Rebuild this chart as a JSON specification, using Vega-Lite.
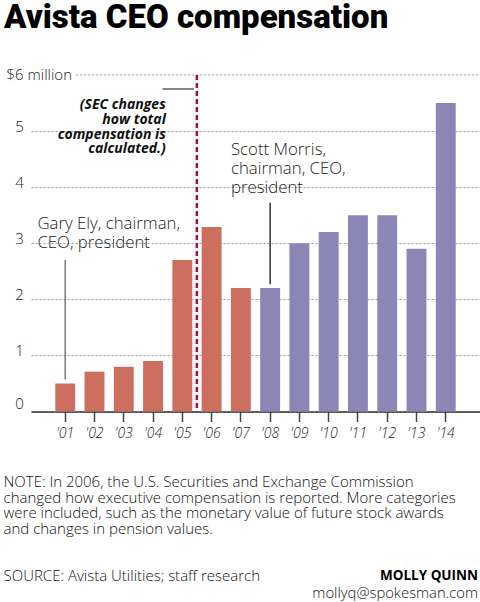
{
  "$schema": "https://vega.github.io/schema/vega-lite/v6.json",
  "autosize": {"type": "none"},
  "width": 449,
  "height": 336.5,
  "padding": {"left": 31, "top": 75, "right": 0, "bottom": 190},
  "background": "white",
  "title": {
    "text": "Avista CEO compensation",
    "anchor": "start",
    "frame": "group",
    "font": "Roboto",
    "fontWeight": 900,
    "fontSize": 33,
    "color": "#000000",
    "baseline": "alphabetic",
    "dx": -27,
    "offset": 6
  },
  "config": {
    "view": {"stroke": null},
    "font": "Open Sans"
  },
  "data": {
    "values": [
      {"year": "2001", "value": 0.50, "ceo": "Gary Ely"},
      {"year": "2002", "value": 0.71, "ceo": "Gary Ely"},
      {"year": "2003", "value": 0.80, "ceo": "Gary Ely"},
      {"year": "2004", "value": 0.90, "ceo": "Gary Ely"},
      {"year": "2005", "value": 2.70, "ceo": "Gary Ely"},
      {"year": "2006", "value": 3.29, "ceo": "Gary Ely"},
      {"year": "2007", "value": 2.20, "ceo": "Gary Ely"},
      {"year": "2008", "value": 2.20, "ceo": "Scott Morris"},
      {"year": "2009", "value": 3.00, "ceo": "Scott Morris"},
      {"year": "2010", "value": 3.20, "ceo": "Scott Morris"},
      {"year": "2011", "value": 3.50, "ceo": "Scott Morris"},
      {"year": "2012", "value": 3.50, "ceo": "Scott Morris"},
      {"year": "2013", "value": 2.90, "ceo": "Scott Morris"},
      {"year": "2014", "value": 5.50, "ceo": "Scott Morris"}
    ]
  },
  "encoding": {
    "x": {
      "field": "year",
      "type": "nominal",
      "sort": null,
      "scale": {"paddingInner": 0.32, "paddingOuter": 0.83},
      "axis": {
        "labelExpr": "\"'\" + substring(datum.label, 2)",
        "labelAngle": 0,
        "labelFont": "Open Sans",
        "labelFontWeight": 300,
        "labelFontStyle": "italic",
        "labelFontSize": 14,
        "labelColor": "#222222",
        "labelPadding": 5,
        "labelBaseline": "top",
        "tickSize": 10,
        "tickColor": "#444444",
        "tickWidth": 1.5,
        "domainColor": "#333333",
        "domainWidth": 1.5,
        "grid": false,
        "title": [
          "NOTE: In 2006, the U.S. Securities and Exchange Commission",
          "changed how executive compensation is reported. More categories",
          "were included, such as the monetary value of future stock awards",
          "and changes in pension values."
        ],
        "titleFont": "Open Sans",
        "titleFontWeight": 300,
        "titleFontSize": 15,
        "titleColor": "#111111",
        "titleAlign": "left",
        "titleAnchor": "start",
        "titleBaseline": "alphabetic",
        "titleLineHeight": 15.5,
        "titleX": -28,
        "titleY": 75.2
      }
    }
  },
  "layer": [
    {
      "mark": {"type": "bar"},
      "encoding": {
        "y": {
          "field": "value",
          "type": "quantitative",
          "scale": {"domain": [0, 6], "nice": false},
          "axis": {
            "values": [0, 1, 2, 3, 4, 5, 6],
            "format": "d",
            "title": "SOURCE: Avista Utilities; staff research",
            "titleAngle": 0,
            "titleFont": "Open Sans",
            "titleFontWeight": 300,
            "titleFontSize": 15,
            "titleColor": "#111111",
            "titleAlign": "left",
            "titleAnchor": "start",
            "titleBaseline": "alphabetic",
            "titleX": -28,
            "titleY": 505,
            "domain": false,
            "ticks": false,
            "tickSize": 0,
            "grid": true,
            "gridDash": [2, 2],
            "gridColor": "#999999",
            "gridWidth": 1,
            "gridOpacity": {"condition": {"test": "datum.value == 6", "value": 0}, "value": 1},
            "labelExpr": "datum.value == 6 ? '$6 million' : datum.label",
            "labelFont": "Open Sans",
            "labelFontWeight": 300,
            "labelFontSize": 15,
            "labelColor": "#222222",
            "labelAlign": {"condition": {"test": "datum.value == 6", "value": "left"}, "value": "center"},
            "labelPadding": {"condition": {"test": "datum.value == 6", "value": 25}, "value": 12},
            "labelBaseline": {"condition": {"test": "datum.value == 0", "value": "bottom"}, "value": "alphabetic"},
            "labelOffset": {"condition": {"test": "datum.value == 6", "value": 4}, "value": 0}
          }
        },
        "color": {
          "field": "ceo",
          "type": "nominal",
          "scale": {"domain": ["Gary Ely", "Scott Morris"], "range": ["#cc6f5e", "#8c86b7"]},
          "legend": null
        }
      }
    },
    {
      "data": {"values": [{}]},
      "mark": {"type": "rule", "color": "#999999", "strokeWidth": 1, "strokeDash": [2, 2]},
      "encoding": {
        "x": {"datum": "2001", "bandPosition": 1.05},
        "x2": {"value": {"expr": "width"}},
        "y": {"datum": 6}
      }
    },
    {
      "data": {"values": [{}]},
      "mark": {"type": "rule", "color": "#a50d3f", "strokeWidth": 2.5, "strokeDash": [5, 3]},
      "encoding": {
        "x": {"datum": "2006", "bandPosition": -0.24},
        "y": {"datum": 6},
        "y2": {"datum": 0}
      }
    },
    {
      "data": {"values": [{}]},
      "mark": {"type": "rule", "color": "#777777", "strokeWidth": 1.5},
      "encoding": {
        "x": {"datum": "2001", "bandPosition": 0.5},
        "y": {"datum": 2.7},
        "y2": {"datum": 0.57}
      }
    },
    {
      "data": {"values": [{}]},
      "mark": {"type": "rule", "color": "#333333", "strokeWidth": 1.5},
      "encoding": {
        "x": {"datum": "2008", "bandPosition": 0.5},
        "y": {"datum": 3.72},
        "y2": {"datum": 2.27}
      }
    },
    {
      "data": {"values": [{}]},
      "mark": {"type": "rule", "color": "#888888", "strokeWidth": 2},
      "encoding": {
        "x": {"datum": "2005", "bandPosition": -0.5},
        "x2": {"datum": "2005", "bandPosition": 1.08},
        "y": {"datum": 5.75}
      }
    },
    {
      "data": {"values": [{}]},
      "mark": {"type": "text", "align": "left", "baseline": "alphabetic", "font": "Open Sans", "fontWeight": 300, "fontSize": 16.8, "lineHeight": 19, "color": "#222222"},
      "encoding": {
        "x": {"datum": "2001", "bandPosition": -0.9},
        "y": {"datum": 3.25},
        "text": {"value": ["Gary Ely, chairman,", "CEO, president"]}
      }
    },
    {
      "data": {"values": [{}]},
      "mark": {"type": "text", "align": "left", "baseline": "alphabetic", "font": "Open Sans", "fontWeight": 300, "fontSize": 16.8, "lineHeight": 19, "color": "#222222"},
      "encoding": {
        "x": {"datum": "2007", "bandPosition": 0},
        "y": {"datum": 4.57},
        "text": {"value": ["Scott Morris,", "chairman, CEO,", "president"]}
      }
    },
    {
      "data": {"values": [{}]},
      "mark": {"type": "text", "align": "right", "baseline": "alphabetic", "font": "Open Sans", "fontWeight": "bold", "fontStyle": "italic", "fontSize": 14, "lineHeight": 14.7, "color": "#111111"},
      "encoding": {
        "x": {"datum": "2005", "bandPosition": -0.33},
        "y": {"datum": 5.39},
        "text": {"value": ["(SEC changes", "how total", "compensation is", "calculated.)"]}
      }
    },
    {
      "data": {"values": [{}]},
      "mark": {"type": "text", "align": "right", "baseline": "alphabetic", "font": "Open Sans", "fontWeight": "bold", "fontSize": 13.5, "color": "#000000", "dx": -2},
      "encoding": {
        "x": {"value": {"expr": "width"}},
        "y": {"datum": -3.0},
        "text": {"value": "MOLLY QUINN"}
      }
    },
    {
      "data": {"values": [{}]},
      "mark": {"type": "text", "align": "right", "baseline": "alphabetic", "font": "Open Sans", "fontWeight": 300, "fontSize": 14.8, "color": "#111111", "dx": -2},
      "encoding": {
        "x": {"value": {"expr": "width"}},
        "y": {"datum": -3.33},
        "text": {"value": "mollyq@spokesman.com"}
      }
    }
  ]
}
